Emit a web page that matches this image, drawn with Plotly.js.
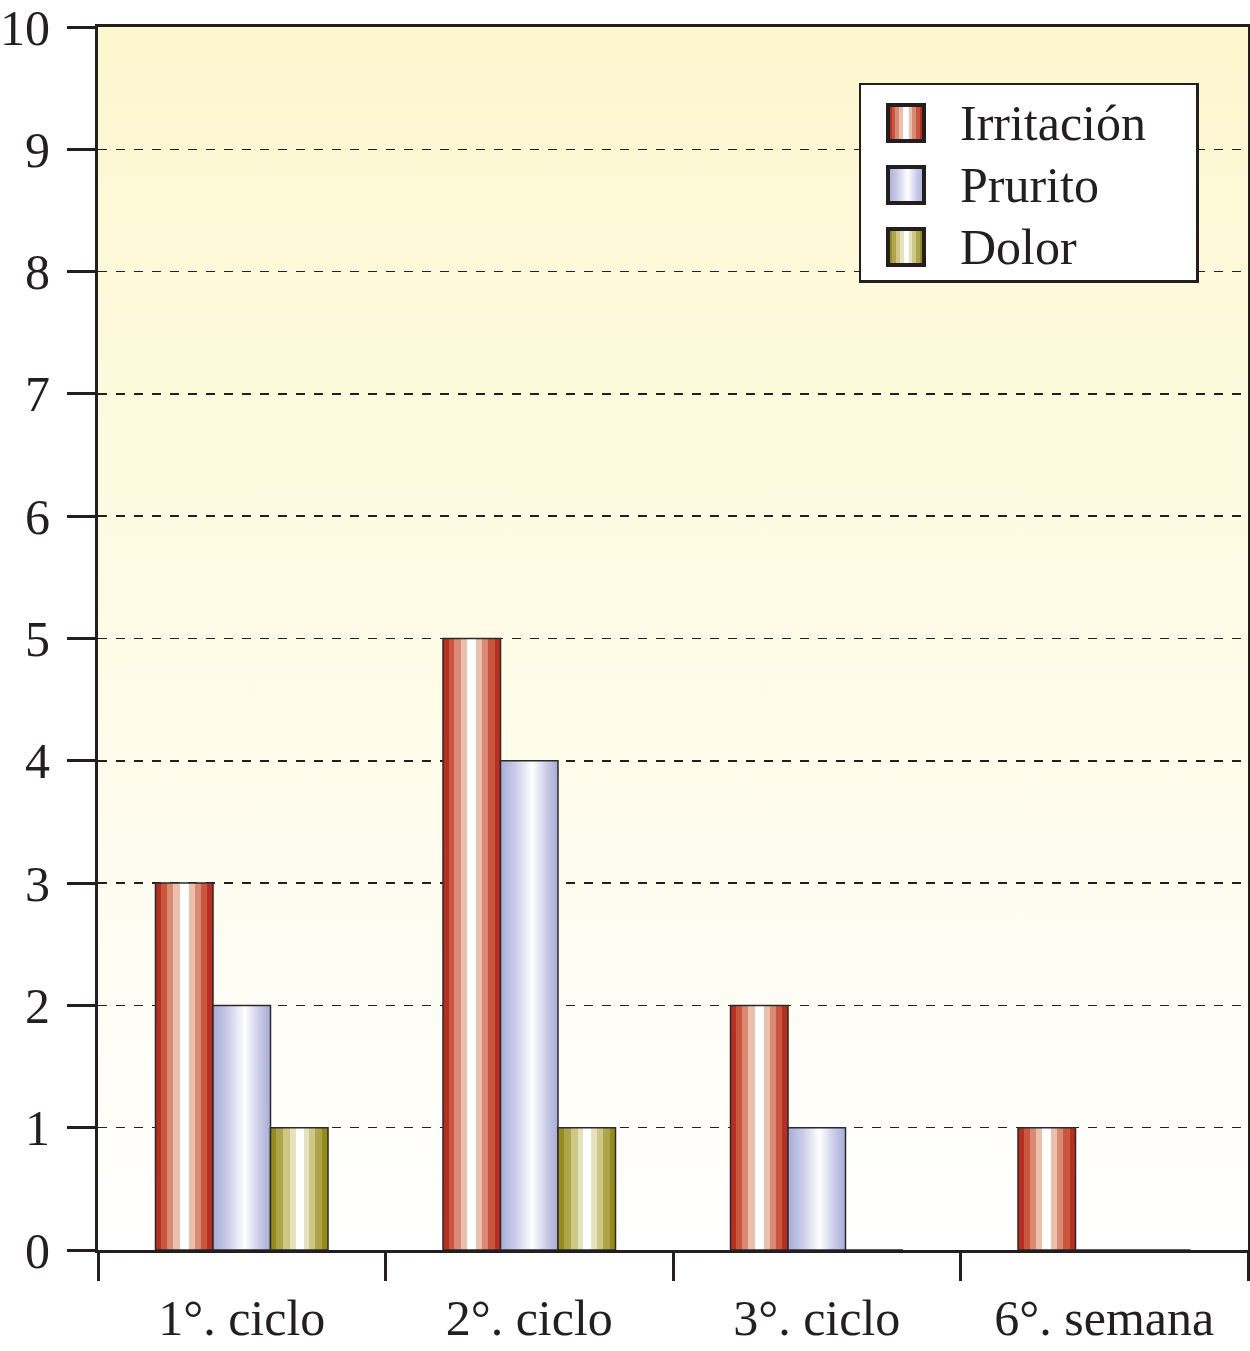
<!DOCTYPE html>
<html>
<head>
<meta charset="utf-8">
<script src="https://cdn.plot.ly/plotly-3.0.1.min.js"></script>
<style>
  html, body { margin: 0; padding: 0; background: #ffffff; }
  #chart { width: 1250px; height: 1351px; }
</style>
</head>
<body>
<div id="chart"></div>
<script>
// ---- data ----
const categories = ['1°. ciclo', '2°. ciclo', '3°. ciclo', '6°. semana'];
const seriesNames = ['Irritación', 'Prurito', 'Dolor'];
const irritacion = [3, 5, 2, 1];
const prurito = [2, 4, 1, 0];
const dolor = [1, 1, 0, 0];
const yTickVals = [0, 1, 2, 3, 4, 5, 6, 7, 8, 9, 10];

// ---- styles ----
const baseColors = ['#cc5a45', '#b8bde0', '#b5ad55'];
const gradients = [
  // Irritación: banded reds
  [[0, '#b92f1f'], [0.10, '#b92f1f'], [0.10, '#c9573f'], [0.20, '#c9573f'], [0.20, '#d98a72'],
   [0.31, '#d98a72'], [0.31, '#ebbfac'], [0.42, '#ebbfac'], [0.42, '#ffffff'], [0.58, '#ffffff'],
   [0.58, '#ebbfac'], [0.68, '#ebbfac'], [0.68, '#d98a72'], [0.79, '#d98a72'], [0.79, '#c9573f'],
   [0.90, '#c9573f'], [0.90, '#b92f1f'], [1, '#b92f1f']],
  // Prurito: smooth blue
  [[0, '#a7acd6'], [0.25, '#c9cce8'], [0.55, '#ffffff'], [0.8, '#c9cce8'], [1, '#a7acd6']],
  // Dolor: banded olive
  [[0, '#968c1c'], [0.10, '#968c1c'], [0.10, '#aea44a'], [0.22, '#aea44a'], [0.22, '#cdc788'],
   [0.34, '#cdc788'], [0.34, '#e6e2bd'], [0.44, '#e6e2bd'], [0.44, '#ffffff'], [0.58, '#ffffff'],
   [0.58, '#e6e2bd'], [0.67, '#e6e2bd'], [0.67, '#cdc788'], [0.78, '#cdc788'], [0.78, '#aea44a'],
   [0.90, '#aea44a'], [0.90, '#968c1c'], [1, '#968c1c']]
];

const values = [irritacion, prurito, dolor];
const traces = values.map((v, i) => ({
  type: 'bar',
  name: seriesNames[i],
  x: categories,
  y: v,
  marker: { color: baseColors[i], line: { color: '#2a2a2a', width: 1.5 } },
  hoverinfo: 'skip'
}));

const font = { family: '"Liberation Serif", "Times New Roman", serif', size: 50, color: '#231f20' };

const layout = {
  width: 1250,
  height: 1351,
  margin: { l: 98, r: 2, t: 27, b: 101 },
  paper_bgcolor: '#ffffff',
  plot_bgcolor: '#fdf8d4',
  font: font,
  barmode: 'group',
  bargap: 0.4,
  bargroupgap: 0,
  showlegend: true,
  legend: {
    x: 0.6626, xanchor: 'left',
    y: 0.9534, yanchor: 'top',
    bgcolor: '#ffffff',
    bordercolor: '#231f20',
    borderwidth: 2.5,
    font: font,
    itemwidth: 80
  },
  xaxis: {
    type: 'category',
    range: [-0.5, 3.5],
    tickson: 'boundaries',
    ticks: 'outside',
    ticklen: 28,
    tickwidth: 3,
    tickcolor: '#231f20',
    showline: true,
    linecolor: '#231f20',
    linewidth: 3,
    mirror: true,
    showgrid: false,
    zeroline: false,
    tickfont: font,
    ticklabelstandoff: 22,
    ticklabeloverflow: 'allow',
    fixedrange: true
  },
  yaxis: {
    range: [0, 10],
    tickmode: 'array',
    tickvals: yTickVals,
    ticktext: yTickVals.map(String),
    ticks: 'outside',
    ticklen: 28,
    tickwidth: 3,
    tickcolor: '#231f20',
    showline: true,
    linecolor: '#231f20',
    linewidth: 3,
    mirror: true,
    showgrid: true,
    gridcolor: '#231f20',
    griddash: 'dash',
    gridwidth: 1.5,
    zeroline: false,
    tickfont: font,
    ticklabelstandoff: 7,
    ticklabeloverflow: 'allow',
    fixedrange: true
  }
};

// target legend geometry (page pixels)
const legendBox = { left: 860, top: 84, width: 340, height: 200 };
const legendTextLeft = 960;
const legendSwatchCenterX = 906;
const legendFirstCenterY = 123;
const legendStep = 62;

const gd = document.getElementById('chart');
Plotly.newPlot(gd, traces, layout, { staticPlot: true, displayModeBar: false }).then(() => {
  const svgNS = 'http://www.w3.org/2000/svg';
  const svg = gd.querySelector('svg.main-svg');
  const defs = document.createElementNS(svgNS, 'defs');
  svg.insertBefore(defs, svg.firstChild);

  function addGrad(id, stops, vertical) {
    const g = document.createElementNS(svgNS, 'linearGradient');
    g.setAttribute('id', id);
    g.setAttribute('x1', '0'); g.setAttribute('y1', '0');
    g.setAttribute('x2', vertical ? '0' : '1'); g.setAttribute('y2', vertical ? '1' : '0');
    stops.forEach(s => {
      const st = document.createElementNS(svgNS, 'stop');
      st.setAttribute('offset', s[0]);
      st.setAttribute('stop-color', s[1]);
      g.appendChild(st);
    });
    defs.appendChild(g);
  }
  gradients.forEach((s, i) => addGrad('barGrad' + i, s, false));
  addGrad('bgGrad', [[0, '#fdf7cf'], [0.5, '#fefbe6'], [1, '#ffffff']], true);

  gd.querySelectorAll('.bglayer rect.bg').forEach(r => { r.style.fill = 'url(#bgGrad)'; });

  gd.querySelectorAll('.barlayer .trace').forEach((t, i) => {
    t.querySelectorAll('path').forEach(p => { p.style.fill = 'url(#barGrad' + i + ')'; });
  });

  function appendTransform(el, dx, dy) {
    el.setAttribute('transform', (el.getAttribute('transform') || '') + ' translate(' + dx + ',' + dy + ')');
  }

  // legend adjustments
  const legend = gd.querySelector('g.legend');
  if (legend) {
    legend.querySelectorAll('[clip-path]').forEach(el => el.removeAttribute('clip-path'));
    const bg = legend.querySelector('rect.bg');
    if (bg) {
      const bb = bg.getBoundingClientRect();
      appendTransform(legend, legendBox.left - bb.left, legendBox.top - bb.top);
      bg.setAttribute('width', legendBox.width - 2.5);
      bg.setAttribute('height', legendBox.height - 2.5);
    }
    legend.querySelectorAll('.traces').forEach((t, i) => {
      const txt = t.querySelector('text');
      const tb = txt.getBoundingClientRect();
      const wantCy = legendFirstCenterY + i * legendStep;
      appendTransform(t, 0, wantCy - (tb.top + tb.height / 2));
      const tb2 = txt.getBoundingClientRect();
      appendTransform(txt, legendTextLeft - tb2.left, 0);
      t.querySelectorAll('.legendpoints path').forEach(p => {
        p.setAttribute('d', 'M18,18H-18V-18H18Z');
        p.style.fill = 'url(#barGrad' + i + ')';
        p.style.stroke = '#231f20';
        p.style.strokeWidth = '4px';
        const pb = p.getBoundingClientRect();
        appendTransform(p, legendSwatchCenterX - (pb.left + pb.width / 2), wantCy - (pb.top + pb.height / 2));
      });
    });
  }
});
</script>
</body>
</html>
